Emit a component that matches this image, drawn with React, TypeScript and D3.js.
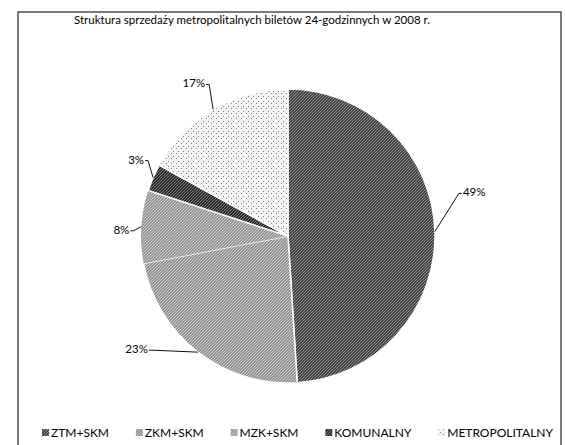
import React, { useRef, useEffect } from 'react';
import * as d3 from 'd3';

const title = 'Struktura sprzedaży metropolitalnych biletów 24-godzinnych w 2008 r.';
const categories = ['ZTM+SKM', 'ZKM+SKM', 'MZK+SKM', 'KOMUNALNY', 'METROPOLITALNY'];
const shares = [49, 23, 8, 3, 17];
// base tone + speck tone for the scanned stipple look
const baseColors = ['#444444', '#939393', '#969696', '#2a2a2a', '#f4f4f4'];
const speckColors = ['#8e8e8e', '#cccccc', '#cccccc', '#808080', '#7c7c7c'];

const W = 565;
const H = 445;

const App = () => {
  const svgRef = useRef<SVGSVGElement | null>(null);

  useEffect(() => {
    if (!svgRef.current) return;
    const svg = d3.select(svgRef.current);
    svg.selectAll('*').remove();

    const font = 'Lato, "Open Sans", sans-serif';

    const data = categories.map((c, i) => ({
      name: c,
      value: shares[i],
      base: baseColors[i],
      speck: speckColors[i],
      id: `pat${i}`,
    }));

    // stipple patterns
    const defs = svg.append('defs');
    data.forEach((d, i) => {
      const p = defs.append('pattern')
        .attr('id', d.id)
        .attr('patternUnits', 'userSpaceOnUse')
        .attr('width', i === 4 ? 5 : 3)
        .attr('height', i === 4 ? 5 : 3);
      p.append('rect')
        .attr('width', 5)
        .attr('height', 5)
        .attr('fill', d.base);
      const specks = i === 4 ? [[0, 0], [3, 2]] : [[0, 0], [2, 1], [1, 2]];
      specks.forEach(([sx, sy]) => {
        p.append('rect')
          .attr('x', sx)
          .attr('y', sy)
          .attr('width', 1)
          .attr('height', 1)
          .attr('fill', d.speck);
      });
    });

    // frame
    svg.append('rect')
      .attr('x', 18)
      .attr('y', 12)
      .attr('width', 543)
      .attr('height', 450)
      .attr('fill', '#fff')
      .attr('stroke', '#222')
      .attr('stroke-width', 1.2);

    svg.append('text')
      .attr('x', 252)
      .attr('y', 24)
      .attr('text-anchor', 'middle')
      .style('font-family', font)
      .style('font-size', '11.5px')
      .attr('fill', '#000')
      .text(title);

    const cx = 288;
    const cy = 236;
    const r = 147;

    const pie = d3.pie<any>().value(d => d.value).sort(null);
    const arcs = pie(data);
    const arc = d3.arc<any>().innerRadius(0).outerRadius(r);

    const g = svg.append('g').attr('transform', `translate(${cx},${cy})`);
    g.selectAll('path')
      .data(arcs)
      .enter()
      .append('path')
      .attr('d', arc)
      .attr('fill', d => `url(#${d.data.id})`)
      .attr('stroke', (d, i) => (i === 2 ? 'none' : '#fff'))
      .attr('stroke-width', 1.5);

    // leader lines + labels, placed off the slice midpoints
    const labelOffsets = [
      [24, -38],  // 49%
      [-46, -2],  // 23%
      [-8, 4],    // 8%
      [-5, -17],  // 3%
      [-4, -25],  // 17%
    ];
    arcs.forEach((a, i) => {
      const mid = (a.startAngle + a.endAngle) / 2;
      const ex = Math.sin(mid) * r;
      const ey = -Math.cos(mid) * r;
      const [ox, oy] = labelOffsets[i];
      const lx = ex + ox;
      const ly = ey + oy;
      const left = ox < 0 || i === 4;
      g.append('path')
        .attr('d', `M${ex},${ey}L${lx},${ly}L${lx + (left ? -3 : 3)},${ly}`)
        .attr('fill', 'none')
        .attr('stroke', '#111')
        .attr('stroke-width', 1);
      g.append('text')
        .attr('x', lx + (left ? -4 : 4))
        .attr('y', ly + 3)
        .attr('text-anchor', left ? 'end' : 'start')
        .style('font-family', font)
        .style('font-size', '11.5px')
        .attr('fill', '#000')
        .text(`${a.data.value}%`);
    });

    // legend, spread between a start and end x with even gaps
    const legend = svg.append('g').attr('transform', 'translate(0,437)');
    const startX = 42;
    const endX = 553;
    const items = data.map(d => {
      const t = legend.append('text')
        .attr('y', 0)
        .style('font-family', font)
        .style('font-size', '12px')
        .attr('fill', '#000')
        .text(d.name);
      const w = (t.node() as SVGTextElement).getComputedTextLength();
      return { d, t, w };
    });
    const total = d3.sum(items, it => it.w + 9);
    const gap = (endX - startX - total) / (items.length - 1);
    let x = startX;
    items.forEach(({ d, t, w }) => {
      legend.append('rect')
        .attr('x', x)
        .attr('y', -8)
        .attr('width', 7)
        .attr('height', 7)
        .attr('fill', `url(#${d.id})`);
      t.attr('x', x + 9);
      x += 9 + w + gap;
    });
  }, []);

  return (
    <svg
      ref={svgRef}
      width={W}
      height={H}
      style={{ position: 'absolute', left: 0, top: 0, background: '#fff' }}
    />
  );
};

export default App;
